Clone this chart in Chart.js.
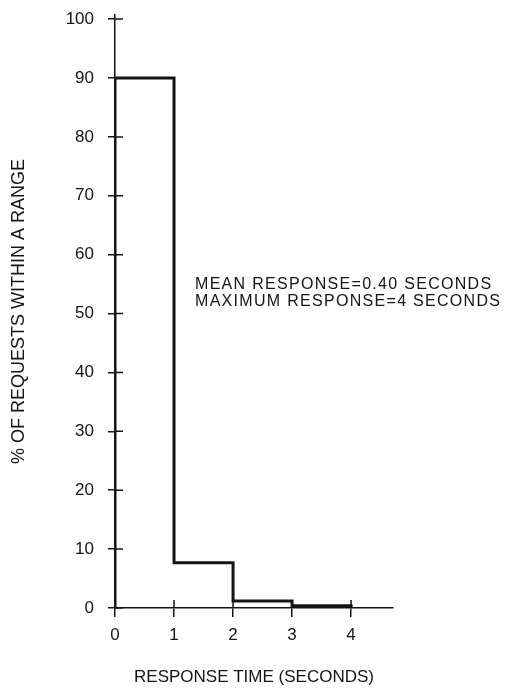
<!DOCTYPE html>
<html lang="en">
<head>
    <meta charset="UTF-8">
    <title>Response time distribution</title>
    <script src="https://cdn.jsdelivr.net/npm/chart.js"></script>
    <style>
        html, body {
            margin: 0;
            padding: 0;
            background: #ffffff;
        }
        #wrap {
            width: 507px;
            height: 691px;
        }
    </style>
</head>
<body>
    <div id="wrap"><canvas id="respChart" width="507" height="691"></canvas></div>

    <script>
        // Data
        const binStart = [0, 1, 2, 3];            // seconds
        const binEnd = 4;                          // last bin closes at 4 s
        const pctInRange = [90, 7.7, 1.2, 0.4];    // % of requests in each 1 s range
        const xTicks = [0, 1, 2, 3, 4];
        const yTicks = [0, 10, 20, 30, 40, 50, 60, 70, 80, 90, 100];
        const notes = ['MEAN RESPONSE=0.40 SECONDS', 'MAXIMUM RESPONSE=4 SECONDS'];

        const ink = '#141414';
        const fontFam = "'Liberation Sans', Arial, sans-serif";

        // step line: rises at 0, holds each value over its range, falls to 0 at the end
        const points = [{ x: 0, y: 0 }];
        binStart.forEach((s, i) => points.push({ x: s, y: pctInRange[i] }));
        points.push({ x: binEnd, y: 0 });

        // ticks that cross the axis lines
        const crossTicks = {
            id: 'crossTicks',
            afterDraw(chart) {
                const { ctx, scales: { x, y } } = chart;
                ctx.save();
                ctx.strokeStyle = ink;
                ctx.lineWidth = 1.5;
                ctx.beginPath();
                yTicks.forEach(v => {
                    const py = y.getPixelForValue(v);
                    ctx.moveTo(x.left, py);
                    ctx.lineTo(x.left + 8, py);
                });
                xTicks.forEach(v => {
                    const px = x.getPixelForValue(v);
                    ctx.moveTo(px, y.bottom);
                    ctx.lineTo(px, y.bottom - 8);
                });
                ctx.stroke();
                ctx.restore();
            }
        };

        const noteText = {
            id: 'noteText',
            afterDraw(chart) {
                const { ctx } = chart;
                ctx.save();
                ctx.fillStyle = ink;
                ctx.font = '16px ' + fontFam;
                ctx.letterSpacing = '1.3px';
                ctx.textAlign = 'left';
                ctx.textBaseline = 'middle';
                ctx.fillText(notes[0], 195, 285);
                ctx.fillText(notes[1], 195, 302);
                ctx.restore();
            }
        };

        new Chart(document.getElementById('respChart'), {
            type: 'line',
            data: {
                datasets: [{
                    data: points,
                    stepped: 'before',
                    borderColor: ink,
                    borderWidth: 3,
                    pointRadius: 0,
                    fill: false
                }]
            },
            options: {
                responsive: false,
                animation: false,
                layout: { padding: { left: 0, right: 114, top: 15, bottom: 0 } },
                plugins: {
                    legend: { display: false },
                    tooltip: { enabled: false }
                },
                scales: {
                    x: {
                        type: 'linear',
                        min: 0,
                        max: 4.71,
                        afterFit(s) { s.height = 83; s.paddingLeft = 0; s.paddingRight = 0; },
                        afterBuildTicks(s) { s.ticks = xTicks.map(v => ({ value: v })); },
                        border: { display: true, color: ink, width: 1.5 },
                        grid: { drawOnChartArea: false, drawTicks: true, tickLength: 9, color: ink, lineWidth: 1.5 },
                        ticks: {
                            padding: 8,
                            color: ink,
                            font: { family: fontFam, size: 17 },
                            maxRotation: 0
                        },
                        title: {
                            display: true,
                            text: 'RESPONSE TIME (SECONDS)',
                            color: ink,
                            font: { family: fontFam, size: 17 },
                            padding: { top: 0, bottom: 3 }
                        }
                    },
                    y: {
                        min: 0,
                        max: 100.7,
                        afterFit(s) { s.width = 115; s.paddingTop = 0; s.paddingBottom = 0; },
                        afterBuildTicks(s) { s.ticks = yTicks.map(v => ({ value: v })); },
                        border: { display: true, color: ink, width: 1.5 },
                        grid: { drawOnChartArea: false, drawTicks: true, tickLength: 7, color: ink, lineWidth: 1.5 },
                        ticks: {
                            padding: 14,
                            color: ink,
                            font: { family: fontFam, size: 17 }
                        },
                        title: {
                            display: true,
                            text: '% OF REQUESTS WITHIN A RANGE',
                            color: ink,
                            font: { family: fontFam, size: 18 },
                            padding: { top: 8, bottom: 0 }
                        }
                    }
                }
            },
            plugins: [crossTicks, noteText]
        });
    </script>
</body>
</html>
